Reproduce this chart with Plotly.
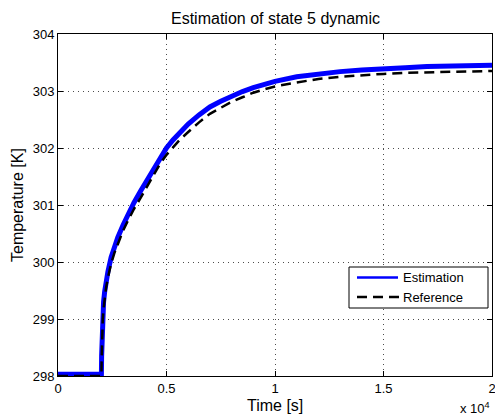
import plotly.graph_objects as go

# Reference (black dashed) readings: time [s], temperature [K]
ref_t = [0, 1000, 2000, 2010, 2020, 2040, 2063, 2100, 2150, 2215, 2300, 2446, 2600,
         2755, 3000, 3216, 3500, 3800, 4100, 4400, 4700, 5000, 5300, 5600, 6000,
         6500, 7000, 7500, 8000, 8500, 9000, 9500, 10000, 11000, 12000, 13000,
         14000, 15000, 16000, 17000, 18000, 19000, 20000]
ref_T = [298.00, 298.00, 298.00, 298.25, 298.45, 298.72, 299.00, 299.18, 299.36,
         299.55, 299.72, 299.97, 300.16, 300.32, 300.55, 300.72, 300.93, 301.12,
         301.32, 301.52, 301.72, 301.88, 302.02, 302.14, 302.28, 302.45, 302.60,
         302.71, 302.81, 302.89, 302.97, 303.03, 303.08, 303.15, 303.21, 303.25,
         303.28, 303.30, 303.32, 303.33, 303.34, 303.35, 303.35]

# Estimation (blue) readings
est_t = [0, 500, 1000, 1500, 2000, 2010, 2020, 2040, 2063, 2100, 2150, 2215, 2300,
         2446, 2600, 2755, 3000, 3216, 3500, 3800, 4100, 4400, 4700, 5000, 5300,
         5600, 6000, 6500, 7000, 7500, 8000, 8500, 9000, 9500, 10000, 11000, 12000,
         13000, 14000, 15000, 16000, 17000, 18000, 19000, 20000]
est_T = [298.03, 298.03, 298.05, 298.03, 298.03, 298.35, 298.58, 298.85, 299.12,
         299.30, 299.48, 299.66, 299.83, 300.08, 300.27, 300.43, 300.65, 300.83,
         301.04, 301.24, 301.44, 301.64, 301.84, 302.00, 302.14, 302.27, 302.42,
         302.58, 302.72, 302.82, 302.91, 302.99, 303.06, 303.12, 303.17, 303.25,
         303.30, 303.34, 303.37, 303.40, 303.41, 303.43, 303.44, 303.45, 303.45]

series_names = ["Estimation", "Reference"]
x_tickvals = [0, 5000, 10000, 15000, 20000]
x_ticktext = ["0", "0.5", "1", "1.5", "2"]
y_tickvals = [298, 299, 300, 301, 302, 303, 304]

FONT = "Liberation Sans, Arial, Helvetica, sans-serif"
BLUE = "#0000FF"
DASH = "10px,6px"

fig = go.Figure()
fig.add_trace(go.Scatter(x=est_t, y=est_T, mode="lines", name=series_names[0],
                         line=dict(color=BLUE, width=5), showlegend=False))
fig.add_trace(go.Scatter(x=ref_t, y=ref_T, mode="lines", name=series_names[1],
                         line=dict(color="black", width=2.5, dash=DASH),
                         showlegend=False))

axis_common = dict(showline=True, linecolor="black", linewidth=1, mirror="ticks",
                   ticks="inside", ticklen=5, tickcolor="black", tickwidth=1,
                   showgrid=True, gridcolor="rgba(0,0,0,0.7)", gridwidth=1,
                   griddash="1px,4px", zeroline=False, ticklabeloverflow="allow",
                   automargin=False,
                   tickfont=dict(family=FONT, size=13, color="black"))

fig.update_xaxes(range=[0, 20000], tickvals=x_tickvals, ticktext=x_ticktext, **axis_common)
fig.update_yaxes(range=[298, 304], tickvals=y_tickvals, **axis_common)

# pixel -> paper helpers for the hand-drawn MATLAB-style legend
L, R, T, B = 58, 492, 34, 376
def px(x):
    return (x - L) / (R - L)
def py(y):
    return (B - y) / (B - T)

shapes = [
    dict(type="rect", xref="paper", yref="paper", x0=px(349), x1=px(488),
         y0=py(308), y1=py(267), line=dict(color="black", width=1),
         fillcolor="white", layer="above"),
    dict(type="line", xref="paper", yref="paper", x0=px(357), x1=px(398),
         y0=py(277.5), y1=py(277.5), line=dict(color=BLUE, width=2.5), layer="above"),
    dict(type="line", xref="paper", yref="paper", x0=px(357), x1=px(399),
         y0=py(297), y1=py(297), line=dict(color="black", width=2.5, dash=DASH),
         layer="above"),
]

annotations = [
    dict(text="Estimation of state 5 dynamic", xref="paper", yref="paper",
         x=0.5, y=py(18), xanchor="center", yanchor="middle", showarrow=False,
         font=dict(family=FONT, size=16, color="black")),
    dict(text="Time [s]", xref="paper", yref="paper",
         x=0.5, y=py(405), xanchor="center", yanchor="middle", showarrow=False,
         font=dict(family=FONT, size=16, color="black")),
    dict(text="Temperature [K]", xref="paper", yref="paper", textangle=-90,
         x=px(17), y=0.5, xanchor="center", yanchor="middle", showarrow=False,
         font=dict(family=FONT, size=16, color="black")),
    dict(text="x 10<sup>4</sup>", xref="paper", yref="paper",
         x=1.0, y=py(408), xanchor="right", yanchor="middle", showarrow=False,
         font=dict(family=FONT, size=13, color="black")),
    dict(text=series_names[0], xref="paper", yref="paper",
         x=px(401), y=py(277.5), xanchor="left", yanchor="middle", showarrow=False,
         font=dict(family=FONT, size=13, color="black")),
    dict(text=series_names[1], xref="paper", yref="paper",
         x=px(401), y=py(297), xanchor="left", yanchor="middle", showarrow=False,
         font=dict(family=FONT, size=13, color="black")),
]

fig.update_layout(
    width=495, height=417,
    margin=dict(l=L, r=495 - R, t=T, b=417 - B, autoexpand=False),
    paper_bgcolor="white", plot_bgcolor="white",
    font=dict(family=FONT, color="black"),
    showlegend=False,
    shapes=shapes,
    annotations=annotations,
)

fig.write_html("out.html")
